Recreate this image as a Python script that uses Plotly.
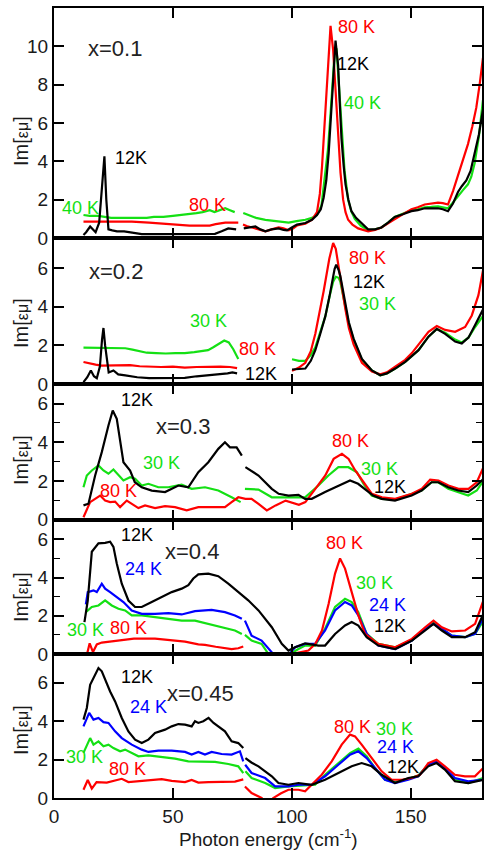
import plotly.graph_objects as go

# ---------------- data ----------------
# Panel 1: x = 0.1
P1_BLACK_LX = [12.4, 13.5, 15.2, 16.5, 17.5, 19.0, 20.2, 21.2, 22.0, 22.9, 24.5, 26.5, 29.5, 32.7, 36.9, 45, 55, 62, 67.7, 70.5, 73.3, 76.6]
P1_BLACK_LY = [0.16, 0.3, 0.6, 0.45, 0.3, 0.8, 2.8, 4.26, 2.0, 0.45, 0.4, 0.35, 0.35, 0.3, 0.2, 0.2, 0.2, 0.22, 0.22, 0.35, 0.5, 0.45]
P1_BLACK_RX = [79.8, 82, 84.7, 86.8, 88.9, 91.5, 94.5, 96.5, 98, 100, 102.2, 105.7, 108.5, 110.6, 112.2, 113.4, 114.5, 115.5, 116.5, 117.3, 118.4, 119.5, 120.2, 120.9, 121.8, 122.6, 123.8, 125.1, 127, 129.3, 132.1, 135, 137.7, 140.5, 143.3, 147, 150.3, 153, 155.9, 158.7, 161.5, 163.5, 165.7, 167.8, 169.9, 171.5, 173.4, 175.2, 176.9, 178.7, 180.4]
P1_BLACK_RY = [0.5, 0.55, 0.6, 0.45, 0.35, 0.45, 0.5, 0.42, 0.4, 0.55, 0.7, 0.78, 0.95, 1.2, 1.5, 2.1, 3.0, 4.4, 6.2, 8.0, 10.3, 9.0, 7.0, 5.2, 3.8, 2.8, 2.0, 1.4, 1.05, 0.8, 0.45, 0.45, 0.55, 0.8, 1.1, 1.25, 1.4, 1.45, 1.55, 1.55, 1.55, 1.5, 1.4, 1.8, 2.4, 2.7, 3.0, 3.5, 4.4, 5.4, 6.7]
P1_RED_LX = [12.4, 20, 26, 32.7, 40, 46, 52, 57, 62, 65.5, 68, 72, 75, 77.5]
P1_RED_LY = [0.85, 0.85, 0.85, 0.85, 0.8, 0.75, 0.7, 0.65, 0.65, 0.65, 0.72, 0.8, 0.8, 0.8]
P1_RED_RX = [79.5, 81, 83.3, 86, 88.9, 91.5, 94.5, 96.5, 98.7, 100.5, 102.2, 105.7, 108.5, 110.6, 111.8, 112.7, 113.8, 114.8, 115.6, 116.3, 117.4, 118.5, 119.5, 120.5, 121.6, 122.6, 123.7, 125.5, 127.9, 130, 132.1, 135, 137.7, 141, 144.7, 147.5, 150.3, 153, 155.9, 158.7, 161.5, 163.5, 165.7, 167.8, 170.6, 172.4, 174.1, 175.9, 177.6, 179, 180.4]
P1_RED_RY = [0.7, 0.62, 0.55, 0.45, 0.35, 0.45, 0.55, 0.5, 0.4, 0.5, 0.65, 0.75, 0.95, 1.35, 2.3, 3.7, 5.8, 8.0, 9.8, 11.07, 9.8, 7.4, 5.1, 3.4, 2.0, 1.35, 0.95, 0.7, 0.5, 0.42, 0.35, 0.42, 0.55, 0.8, 1.1, 1.3, 1.5, 1.6, 1.75, 1.8, 1.85, 1.82, 1.75, 2.45, 3.5, 4.2, 4.9, 5.8, 6.8, 8.0, 9.4]
P1_GREEN_LX = [12.4, 15, 18.6, 21, 24, 30, 35, 39, 42, 46, 50, 54.3, 57, 59.9, 62.5, 65.5, 67.5, 70, 72, 74, 76]
P1_GREEN_LY = [1.2, 1.15, 1.15, 1.1, 1.05, 1.05, 1.05, 1.05, 1.1, 1.1, 1.15, 1.2, 1.25, 1.3, 1.35, 1.45, 1.35, 1.45, 1.55, 1.45, 1.35]
P1_GREEN_RX = [79.6, 82, 85, 88.9, 92, 95, 98.7, 102, 105.7, 108.5, 110.6, 112.5, 114.1, 115.2, 116.2, 117.2, 118.0, 118.8, 119.8, 120.9, 122.2, 123.7, 125, 126.5, 129, 132.1, 135, 137.7, 140.5, 143.3, 147, 150.3, 153, 155.9, 158.7, 161.5, 163.5, 165.7, 167.8, 169.9, 172, 174.1, 175.5, 176.9, 178.7, 180.4]
P1_GREEN_RY = [1.3, 1.2, 1.05, 0.95, 0.9, 0.85, 0.8, 0.88, 0.95, 1.05, 1.2, 1.7, 3.3, 4.6, 6.3, 8.3, 9.6, 9.9, 8.0, 5.8, 3.5, 2.0, 1.4, 1.0, 0.65, 0.4, 0.45, 0.55, 0.8, 1.1, 1.3, 1.45, 1.5, 1.6, 1.62, 1.65, 1.6, 1.55, 1.85, 2.2, 2.5, 2.8, 3.2, 3.9, 5.3, 7.2]

# Panel 2: x = 0.2
P2_BLACK_LX = [12.4, 14, 15.5, 16.8, 18, 19.3, 20.2, 20.8, 21.5, 23, 25, 27, 30, 35, 40, 45, 50, 55, 60, 65, 70, 73, 75, 77]
P2_BLACK_LY = [0.1, 0.35, 0.7, 0.4, 0.3, 0.9, 2.3, 2.9, 2.0, 0.6, 0.7, 0.5, 0.45, 0.35, 0.3, 0.3, 0.3, 0.32, 0.4, 0.45, 0.5, 0.55, 0.6, 0.55]
P2_BLACK_RX = [100.1, 103, 105.7, 108, 109.9, 112, 114.1, 115.8, 116.9, 118.0, 118.7, 119.7, 120.4, 122.5, 124, 126.0, 129.5, 133.7, 137.2, 140, 143.5, 147.7, 150.5, 153.3, 157.5, 161.0, 164.5, 168.7, 171.5, 174.3, 177.1, 180.6]
P2_BLACK_RY = [0.75, 0.78, 0.8, 1.2, 1.75, 2.6, 3.5, 4.5, 5.3, 5.95, 6.18, 5.9, 5.6, 4.2, 3.2, 2.35, 1.3, 0.7, 0.45, 0.55, 0.8, 1.15, 1.45, 1.75, 2.45, 2.85, 2.6, 2.2, 2.1, 2.4, 3.05, 3.9]
P2_RED_LX = [12.4, 15, 17.5, 20, 24, 28, 32, 36, 40, 45, 50, 55, 60, 65, 70, 74, 77]
P2_RED_LY = [1.14, 1.05, 1.0, 0.95, 0.95, 0.95, 0.98, 0.92, 0.9, 0.88, 0.9, 0.85, 0.88, 0.9, 0.9, 0.88, 0.82]
P2_RED_RX = [100.1, 103, 105.7, 108, 109.9, 111.7, 113.4, 115.8, 117.4, 118.5, 119.7, 121, 122.5, 124, 126.0, 129.5, 133.7, 137.2, 140, 143.5, 147.7, 150.5, 153.3, 157.5, 161.0, 164.5, 168.7, 172.9, 175.7, 178.5, 180.6]
P2_RED_RY = [0.68, 0.85, 1.1, 1.7, 2.6, 3.7, 4.8, 6.5, 7.3, 7.0, 6.0, 4.9, 3.9, 2.9, 2.05, 1.1, 0.65, 0.5, 0.6, 0.9, 1.25, 1.6, 2.05, 2.7, 3.0, 2.8, 2.7, 2.95, 3.55, 4.6, 6.0]
P2_GREEN_LX = [12.4, 16, 20, 25.7, 30, 33, 36, 39, 43, 47, 51, 55, 59, 62, 64.8, 67, 69, 71.6, 73.5, 75.4, 77.5]
P2_GREEN_LY = [1.88, 1.87, 1.85, 1.85, 1.85, 1.78, 1.7, 1.62, 1.6, 1.58, 1.6, 1.6, 1.65, 1.7, 1.75, 1.9, 2.05, 2.25, 2.15, 1.8, 1.3]
P2_GREEN_RX = [100.1, 103, 105.7, 108, 109.9, 112, 114.1, 116, 117.4, 118.5, 119.7, 120.4, 122.5, 124, 126.0, 129.5, 133.7, 137.2, 140, 143.5, 147.7, 150.5, 153.3, 157.5, 161.0, 164.5, 168.7, 171.5, 174.3, 177.1, 180.6]
P2_GREEN_RY = [1.28, 1.2, 1.2, 1.5, 1.9, 2.7, 3.5, 4.6, 5.3, 5.55, 5.5, 5.3, 4.1, 3.1, 2.3, 1.25, 0.7, 0.45, 0.55, 0.8, 1.15, 1.45, 1.75, 2.45, 2.85, 2.65, 2.3, 2.15, 2.4, 2.95, 3.55]

# Panel 3: x = 0.3
P3_BLACK_LX = [12.4, 14.5, 17.3, 20.1, 22.9, 24.7, 26.4, 27.8, 29.2, 32.0, 34.0, 36.9, 41.1, 46.7, 52.3, 56.5, 60.7, 64.9, 69.1, 71.9, 74.0, 76.8, 79.0]
P3_BLACK_LY = [0.73, 0.82, 2.28, 3.49, 4.87, 5.65, 5.22, 4.0, 2.97, 2.54, 1.93, 1.67, 1.5, 1.42, 1.76, 1.67, 2.45, 2.97, 3.66, 4.0, 3.74, 3.74, 3.31]
P3_BLACK_RX = [80.5, 83, 86.0, 91.6, 94.5, 98.6, 102.8, 105.6, 108.4, 114.0, 119.6, 124.5, 127.9, 130.7, 134.2, 137.8, 143.4, 150.4, 154.6, 158.8, 161.6, 165.8, 170.0, 174.2, 177.8, 180.6]
P3_BLACK_RY = [2.71, 2.5, 2.28, 1.59, 1.33, 1.24, 1.28, 1.07, 1.07, 1.42, 1.76, 2.02, 1.85, 1.59, 1.24, 1.07, 0.98, 1.24, 1.5, 1.93, 1.93, 1.67, 1.5, 1.42, 1.76, 2.11]
P3_RED_X = [12.4, 13.4, 15.2, 17.3, 19.4, 21.5, 23.6, 25.7, 27.8, 30.6, 32.7, 35.5, 38.3, 42.5, 46.7, 50.9, 55.8, 60.7, 66.3, 71.9, 74.7, 77.5, 80.5, 83.1, 86.0, 89.5, 93.2, 97.4, 103.0, 105.7, 109.9, 114.1, 117.6, 121.1, 123.9, 126.7, 130.2, 133.7, 137.9, 143.5, 150.5, 154.7, 158.2, 161.7, 165.9, 170.1, 174.3, 177.8, 180.6]
P3_RED_Y = [0.12, 0.38, 0.9, 1.07, 1.24, 0.98, 0.9, 0.93, 0.64, 0.98, 0.81, 0.59, 0.73, 0.59, 0.69, 0.64, 0.47, 0.64, 0.64, 0.64, 0.9, 1.15, 1.07, 1.07, 0.81, 0.47, 0.73, 0.98, 0.76, 0.9, 1.59, 2.28, 3.14, 3.4, 3.14, 2.54, 1.93, 1.33, 1.15, 1.07, 1.33, 1.59, 2.07, 2.02, 1.76, 1.59, 1.59, 1.93, 2.71]
P3_GREEN_LX = [12.4, 13.8, 15.9, 18.7, 20.8, 22.9, 25.0, 27.1, 29.2, 32.0, 34.1, 36.9, 39.7, 43.9, 48.1, 53.7, 57.9, 63.5, 69.1, 74.7, 78.5]
P3_GREEN_LY = [1.67, 2.28, 2.54, 2.8, 2.54, 2.37, 2.59, 2.28, 2.02, 2.19, 2.11, 1.76, 1.85, 1.67, 1.67, 1.8, 1.59, 1.67, 1.5, 1.15, 0.9]
P3_GREEN_RX = [80.3, 83, 86.0, 91.6, 98.6, 105.6, 111.2, 115.4, 119.6, 123.8, 127.4, 130.2, 133.6, 137.8, 143.4, 150.4, 154.6, 158.8, 161.6, 165.8, 170.0, 174.2, 177.8, 180.6]
P3_GREEN_RY = [1.59, 1.57, 1.55, 1.15, 1.15, 1.15, 1.76, 2.28, 2.71, 2.71, 2.45, 1.85, 1.24, 1.07, 1.04, 1.33, 1.5, 1.93, 1.93, 1.59, 1.42, 1.24, 1.5, 2.02]

# Panel 4: x = 0.4
P4_BLACK_X = [12.8, 14.2, 15.9, 18.7, 21.5, 23.6, 25.0, 26.4, 28.5, 31.3, 34.1, 36.9, 41.1, 45.3, 49.5, 53.7, 56.5, 58.6, 60.7, 64.9, 69.1, 73.3, 76.8, 79.6, 81.7, 86, 91.6, 95.8, 98.6, 101.4, 105.6, 111.2, 114, 118.2, 122.4, 125.2, 128, 131.5, 136.4, 143.5, 150.5, 156.1, 159.6, 163.1, 167.3, 172.9, 177.1, 180.6]
P4_BLACK_Y = [1.67, 2.8, 5.35, 5.79, 5.82, 5.88, 5.61, 4.74, 3.68, 2.8, 2.46, 2.46, 2.72, 2.98, 3.24, 3.42, 3.6, 3.95, 4.17, 4.21, 4.07, 3.68, 3.33, 3.0, 2.81, 2.28, 1.4, 0.53, 0.18, 0.35, 0.56, 0.44, 0.44, 1.05, 1.49, 1.67, 1.49, 0.88, 0.44, 0.26, 0.7, 1.23, 1.58, 1.23, 0.88, 0.88, 1.14, 2.1]
P4_BLUE_LX = [13.4, 14.2, 16.6, 18.0, 20.1, 21.5, 23.6, 26.4, 29.2, 32.7, 36.9, 42.5, 48.1, 53.7, 59.3, 66.3, 71.9, 76.1, 79.0]
P4_BLUE_LY = [2.6, 3.24, 3.33, 3.24, 3.68, 3.42, 3.24, 2.98, 2.72, 2.28, 2.1, 2.1, 2.14, 2.07, 2.24, 2.31, 2.19, 2.02, 1.84]
P4_BLUE_RX = [80.3, 83.1, 87.3, 91.6, 94, 98.6, 101.4, 105.6, 109.8, 114, 118.2, 122.4, 125.2, 128, 131.5, 136.4, 143.5, 150.5, 156.1, 159.6, 163.1, 167.3, 172.9, 177.1, 180.6]
P4_BLUE_RY = [1.75, 0.96, 0.7, 0.09, -0.5, -0.05, 0.35, 0.53, 0.53, 1.23, 2.28, 2.72, 2.54, 2.02, 1.05, 0.44, 0.26, 0.7, 1.32, 1.58, 1.32, 0.96, 0.88, 1.05, 1.93]
P4_GREEN_LX = [13.4, 15.9, 18.7, 21.5, 24.3, 27.1, 29.9, 32.7, 36.9, 42.5, 48.1, 53.7, 59.3, 64.9, 70.5, 76.1, 79.0]
P4_GREEN_LY = [2.19, 2.46, 2.54, 2.81, 2.54, 2.37, 2.28, 2.02, 2.02, 1.93, 1.84, 1.75, 1.75, 1.58, 1.4, 1.23, 1.05]
P4_GREEN_RX = [80.3, 83.1, 87.3, 90.2, 94, 98.6, 102.8, 105.6, 109.8, 114, 118.2, 122.4, 125.2, 128, 131.5, 136.4, 143.5, 150.5, 156.1, 159.6, 163.1, 167.3, 172.9, 177.1, 180.6]
P4_GREEN_RY = [1.0, 0.7, 0.53, 0.0, -0.5, -0.05, 0.26, 0.44, 0.44, 1.32, 2.46, 2.89, 2.72, 2.19, 1.05, 0.53, 0.35, 0.7, 1.32, 1.67, 1.32, 0.96, 0.88, 1.05, 1.75]
P4_RED_LX = [13.9, 15.0, 16.4, 18.0, 20.1, 23.6, 28.5, 33.6, 42.5, 49.5, 55.1, 60.7, 63.5, 68, 74.7, 77.5, 79.6]
P4_RED_LY = [0.0, 0.56, 0.1, 0.5, 0.6, 0.65, 0.74, 0.8, 0.8, 0.7, 0.65, 0.5, 0.48, 0.38, 0.26, 0.3, 0.39]
P4_RED_RX = [80.8, 84, 90, 96, 100, 104.2, 107, 109.9, 112.7, 115.5, 118.2, 120.3, 122.4, 125.2, 128, 130.8, 136.4, 143.5, 150.5, 156.1, 159.6, 163.1, 167.3, 172.9, 177.1, 180.6]
P4_RED_RY = [0.0, -0.5, -1.0, -0.6, 0.0, 0.09, 0.18, 0.53, 1.23, 2.63, 4.21, 5.0, 4.47, 3.24, 2.02, 1.05, 0.53, 0.35, 0.79, 1.4, 1.75, 1.4, 1.18, 1.23, 1.58, 2.81]

# Panel 5: x = 0.45
P5_BLACK_LX = [12.4, 13.8, 15.2, 17.3, 18.7, 20.1, 21.5, 23.6, 25.7, 28.5, 31.3, 34.1, 36.9, 39.7, 42.5, 46.7, 49.5, 52.3, 55.1, 57.9, 59.3, 60.7, 62.8, 65.0, 67.1, 69.1, 71.9, 74.7, 77.5, 79.6]
P5_BLACK_LY = [4.08, 4.69, 5.9, 6.42, 6.77, 6.6, 6.16, 5.55, 5.03, 4.17, 3.47, 3.04, 2.86, 3.04, 3.39, 3.56, 3.73, 3.85, 3.82, 3.73, 4.0, 3.91, 4.0, 4.17, 3.91, 3.73, 3.47, 2.95, 2.86, 2.6]
P5_BLACK_RX = [80.5, 83, 86.0, 91.6, 94.4, 98.6, 102.8, 108.4, 114.0, 119.6, 125.2, 129.4, 133.6, 137.8, 143.4, 149.0, 153.2, 157.4, 160.9, 164.4, 168.6, 174.2, 180.5]
P5_BLACK_RY = [2.08, 1.85, 1.65, 1.13, 0.78, 0.69, 0.78, 0.69, 0.95, 1.3, 1.65, 1.82, 1.65, 1.21, 0.78, 1.04, 1.13, 1.65, 1.82, 1.48, 0.87, 0.78, 0.95]
P5_BLUE_LX = [12.4, 13.8, 14.8, 16.6, 18.7, 20.8, 22.9, 25.7, 28.5, 32.7, 36.9, 39.7, 43.9, 49.5, 55.1, 57.9, 60.7, 63.5, 66.3, 70.5, 74.7, 78.2, 79.6]
P5_BLUE_LY = [3.73, 4.17, 4.43, 4.08, 4.17, 3.95, 3.91, 3.47, 3.12, 2.78, 2.52, 2.4, 2.47, 2.47, 2.4, 2.26, 2.4, 2.26, 2.4, 2.29, 2.26, 2.43, 1.91]
P5_BLUE_RX = [80.4, 83.1, 88.8, 93.0, 98.6, 102.8, 108.4, 114.0, 119.6, 124.5, 128.0, 131.5, 135.0, 139.2, 143.4, 149.0, 153.2, 157.4, 160.9, 164.4, 168.6, 174.2, 180.5]
P5_BLUE_RY = [1.73, 1.3, 1.04, 0.61, 0.61, 0.69, 0.69, 1.13, 1.73, 2.26, 2.43, 2.08, 1.56, 0.95, 0.78, 0.95, 1.13, 1.73, 1.91, 1.56, 1.04, 0.87, 0.95]
P5_GREEN_LX = [12.4, 13.8, 15.2, 16.6, 18.7, 20.8, 22.9, 25.0, 27.8, 29.9, 32.7, 35.5, 39.7, 45.3, 50.9, 56.5, 62.1, 67.7, 73.3, 77.5, 79.6]
P5_GREEN_LY = [2.35, 2.78, 3.12, 2.78, 2.95, 2.69, 2.78, 2.6, 2.43, 2.52, 2.35, 2.17, 2.22, 2.12, 2.05, 1.91, 1.88, 1.88, 1.77, 1.65, 1.3]
P5_GREEN_RX = [80.5, 83.1, 88.8, 93.0, 98.6, 105.6, 109.8, 114.0, 119.6, 124.5, 128.0, 131.5, 135.0, 139.2, 143.4, 149.0, 153.2, 157.4, 160.9, 164.4, 168.6, 174.2, 180.5]
P5_GREEN_RY = [1.39, 1.04, 0.78, 0.52, 0.61, 0.66, 0.69, 1.21, 1.82, 2.34, 2.57, 2.17, 1.56, 0.95, 0.83, 1.0, 1.17, 1.73, 1.86, 1.52, 0.95, 0.78, 1.04]
P5_RED_LX = [12.4, 14.2, 15.9, 17.9, 22.2, 25.7, 28.5, 31.3, 36.9, 42.5, 45.3, 49.5, 55.1, 57.9, 60.7, 64.9, 70.5, 76.1, 79.6]
P5_RED_LY = [0.43, 0.94, 0.49, 0.83, 0.8, 0.89, 1.0, 0.83, 0.89, 0.94, 0.98, 0.89, 0.83, 0.94, 0.8, 0.83, 0.83, 0.85, 0.97]
P5_RED_RX = [80.3, 83.1, 87.3, 90, 92.2, 95.5, 98.6, 102.8, 105.6, 108.4, 112.6, 116.8, 121.0, 124.5, 126.6, 129.4, 133.6, 137.8, 142.0, 146.2, 150.4, 153.9, 157.4, 160.9, 164.4, 168.6, 172.8, 177.0, 180.5]
P5_RED_RY = [0.6, 0.26, 0.0, -0.3, 0.0, 0.25, 0.43, 0.43, 0.35, 0.69, 1.21, 1.91, 2.78, 3.3, 3.21, 2.78, 2.08, 1.39, 0.95, 0.95, 1.04, 1.21, 1.82, 1.99, 1.65, 1.21, 1.13, 1.13, 1.56]

PANEL_LABELS = ["x=0.1", "x=0.2", "x=0.3", "x=0.4", "x=0.45"]
X_TICKS = [0, 50, 100, 150]
X_RANGE = [0, 180]
Y_RANGES = [[0, 12], [0, 7.56], [0, 7.02], [0, 7.04], [0, 7.5]]
Y_MINOR = [False, False, True, True, False]

# ---------------- styling ----------------
BLACK, RED, GREEN, BLUE = "#000000", "#ff0000", "#14e014", "#0000ff"
FONT = "Liberation Sans, Arial, Helvetica, sans-serif"
TXT = "#1a1a1a"

# paper-coordinate domains derived from pixel layout (plot area 8..798 px)
def dom(top_px, bot_px):
    return [(798 - bot_px) / 790.0, (798 - top_px) / 790.0]

DOMAINS = [dom(8, 238), dom(238, 384), dom(384, 519.5), dom(519.5, 654), dom(654, 798)]


def seg(*parts):
    xs, ys = [], []
    for i, (x, y) in enumerate(parts):
        if i:
            xs.append(None)
            ys.append(None)
        xs += list(x)
        ys += list(y)
    return xs, ys


panels = [
    [
        (GREEN, seg((P1_GREEN_LX, P1_GREEN_LY), (P1_GREEN_RX, P1_GREEN_RY))),
        (RED, seg((P1_RED_LX, P1_RED_LY), (P1_RED_RX, P1_RED_RY))),
        (BLACK, seg((P1_BLACK_LX, P1_BLACK_LY), (P1_BLACK_RX, P1_BLACK_RY))),
    ],
    [
        (GREEN, seg((P2_GREEN_LX, P2_GREEN_LY), (P2_GREEN_RX, P2_GREEN_RY))),
        (RED, seg((P2_RED_LX, P2_RED_LY), (P2_RED_RX, P2_RED_RY))),
        (BLACK, seg((P2_BLACK_LX, P2_BLACK_LY), (P2_BLACK_RX, P2_BLACK_RY))),
    ],
    [
        (GREEN, seg((P3_GREEN_LX, P3_GREEN_LY), (P3_GREEN_RX, P3_GREEN_RY))),
        (RED, seg((P3_RED_X, P3_RED_Y))),
        (BLACK, seg((P3_BLACK_LX, P3_BLACK_LY), (P3_BLACK_RX, P3_BLACK_RY))),
    ],
    [
        (GREEN, seg((P4_GREEN_LX, P4_GREEN_LY), (P4_GREEN_RX, P4_GREEN_RY))),
        (BLUE, seg((P4_BLUE_LX, P4_BLUE_LY), (P4_BLUE_RX, P4_BLUE_RY))),
        (RED, seg((P4_RED_LX, P4_RED_LY), (P4_RED_RX, P4_RED_RY))),
        (BLACK, seg((P4_BLACK_X, P4_BLACK_Y))),
    ],
    [
        (GREEN, seg((P5_GREEN_LX, P5_GREEN_LY), (P5_GREEN_RX, P5_GREEN_RY))),
        (BLUE, seg((P5_BLUE_LX, P5_BLUE_LY), (P5_BLUE_RX, P5_BLUE_RY))),
        (RED, seg((P5_RED_LX, P5_RED_LY), (P5_RED_RX, P5_RED_RY))),
        (BLACK, seg((P5_BLACK_LX, P5_BLACK_LY), (P5_BLACK_RX, P5_BLACK_RY))),
    ],
]

# text labels: (text, x, y, colour) in data coordinates of each panel
LABELS = [
    [("12K", 32.2, 4.17, BLACK), ("40 K", 11.3, 1.56, GREEN), ("80 K", 64.4, 1.72, RED),
     ("80 K", 127.2, 11.0, RED), ("12K", 125.9, 9.08, BLACK), ("40 K", 129.7, 7.04, GREEN)],
    [("30 K", 64.9, 3.26, GREEN), ("80 K", 85.4, 1.82, RED), ("12K", 87.0, 0.52, BLACK),
     ("80 K", 131.8, 6.53, RED), ("12K", 132.6, 5.3, BLACK), ("30 K", 136.0, 4.12, GREEN)],
    [("12K", 34.9, 6.17, BLACK), ("30 K", 45.2, 2.93, GREEN), ("80 K", 27.2, 1.48, RED),
     ("80 K", 124.9, 4.09, RED), ("30 K", 137.0, 2.64, GREEN), ("12K", 141.2, 1.68, BLACK)],
    [("12K", 34.9, 6.23, BLACK), ("24 K", 37.7, 4.46, BLUE), ("30 K", 13.4, 1.25, GREEN),
     ("80 K", 31.2, 1.36, RED), ("80 K", 122.0, 5.83, RED), ("30 K", 134.7, 3.73, GREEN),
     ("24 K", 140.4, 2.57, BLUE), ("12K", 141.4, 1.46, BLACK)],
    [("12K", 34.9, 6.29, BLACK), ("24 K", 39.7, 4.73, BLUE), ("30 K", 13.0, 2.13, GREEN),
     ("80 K", 30.8, 1.5, RED), ("80 K", 125.5, 3.69, RED), ("30 K", 143.3, 3.58, GREEN),
     ("24 K", 143.7, 2.65, BLUE), ("12K", 146.9, 1.6, BLACK)],
]
PANEL_LABEL_POS = [(25.7, 9.9), (25.9, 5.8), (54.2, 4.84), (58.2, 5.36), (61.5, 5.46)]
YTITLE_PX = [141, 323, 460, 597, 730]

fig = go.Figure()
annotations = []
layout = {}
for i, series in enumerate(panels):
    n = i + 1
    xa = "x" if n == 1 else f"x{n}"
    ya = "y" if n == 1 else f"y{n}"
    for color, (xs, ys) in series:
        fig.add_trace(go.Scatter(x=xs, y=ys, mode="lines", xaxis=xa, yaxis=ya,
                                 line=dict(color=color, width=2.2), showlegend=False,
                                 hoverinfo="skip"))
    xkey = "xaxis" if n == 1 else f"xaxis{n}"
    ykey = "yaxis" if n == 1 else f"yaxis{n}"
    layout[xkey] = dict(
        domain=[0, 1], anchor=ya, range=X_RANGE, tickvals=X_TICKS,
        ticks="inside", ticklen=10, tickwidth=1.5, tickcolor="black",
        showline=True, linewidth=2, linecolor="black", mirror="ticks",
        showgrid=False, zeroline=False, showticklabels=(n == 5),
        tickfont=dict(family=FONT, size=19, color=TXT),
    )
    if n > 1:
        layout[xkey]["matches"] = "x"
    ycfg = dict(
        domain=DOMAINS[i], anchor=xa, range=Y_RANGES[i], dtick=2, tick0=0,
        ticks="inside", ticklen=10, tickwidth=1.5, tickcolor="black",
        showline=True, linewidth=2, linecolor="black", mirror="ticks",
        showgrid=False, zeroline=False,
        tickfont=dict(family=FONT, size=19, color=TXT),
    )
    if Y_MINOR[i]:
        ycfg["minor"] = dict(dtick=1, ticks="inside", ticklen=6, tickwidth=1.2,
                             tickcolor="black", showgrid=False)
    layout[ykey] = ycfg

    for text, x, y, color in LABELS[i]:
        annotations.append(dict(text=text, x=x, y=y, xref=xa, yref=ya, showarrow=False,
                                xanchor="center", yanchor="middle",
                                font=dict(family=FONT, size=18, color=color)))
    px, py = PANEL_LABEL_POS[i]
    annotations.append(dict(text=PANEL_LABELS[i], x=px, y=py, xref=xa, yref=ya,
                            showarrow=False, xanchor="center", yanchor="middle",
                            font=dict(family=FONT, size=22, color="#222222")))
    annotations.append(dict(text="Im[<span style='font-size:16px'>εμ</span>]",
                            x=0, xref="paper", xshift=-33,
                            y=(798 - YTITLE_PX[i]) / 790.0, yref="paper",
                            textangle=-90, showarrow=False,
                            xanchor="center", yanchor="middle",
                            font=dict(family=FONT, size=20, color=TXT)))

annotations.append(dict(text="Photon energy (cm<sup>-1</sup>)", x=0.5, xref="paper",
                        y=(798 - 838) / 790.0, yref="paper", showarrow=False,
                        xanchor="center", yanchor="middle",
                        font=dict(family=FONT, size=19, color=TXT)))

fig.update_layout(
    width=485, height=854,
    margin=dict(l=54, r=1, t=8, b=56),
    paper_bgcolor="white", plot_bgcolor="white",
    annotations=annotations,
    **layout,
)

fig.write_html("out.html")
